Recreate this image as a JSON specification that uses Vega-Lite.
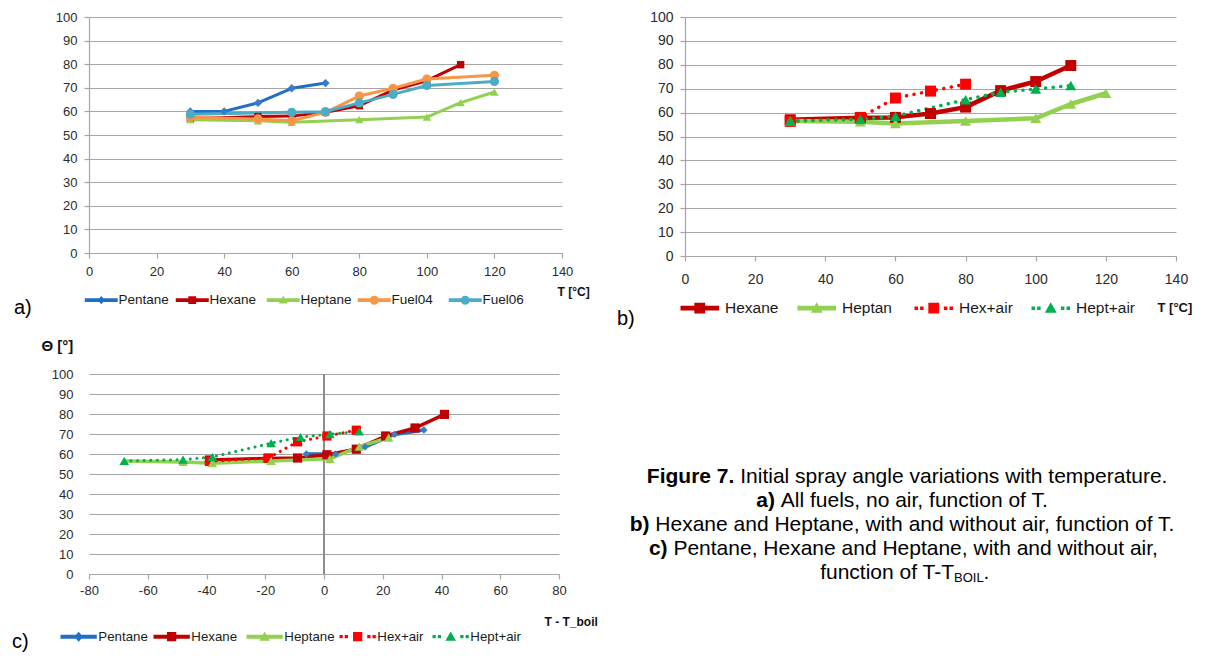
{
  "$schema": "https://vega.github.io/schema/vega-lite/v6.json",
  "background": "white",
  "padding": {"left": 12, "top": 10, "right": 5, "bottom": 0},
  "config": {
    "font": "Liberation Sans",
    "view": {"stroke": null},
    "axis": {"labelColor": "#2b2b2b", "labelFont": "Liberation Sans", "labelFlush": false, "labelOverlap": false, "domainColor": "#A6A6A6", "tickColor": "#A6A6A6", "gridColor": "#A6A6A6", "gridWidth": 1.2, "domainWidth": 1.2, "tickWidth": 1.2, "titleColor": "#111111", "titleFont": "Liberation Sans"},
    "title": {"fontWeight": "normal", "fontSize": 20, "color": "#000000", "font": "Liberation Sans"}
  },
  "resolve": {
    "scale": {"color": "independent", "fill": "independent", "stroke": "independent", "shape": "independent"},
    "legend": {"color": "independent", "shape": "independent"}
  },
  "datasets": {
    "a": [
      {"series": "Pentane", "T": 30, "angle": 60}, {"series": "Pentane", "T": 40, "angle": 60}, {"series": "Pentane", "T": 50, "angle": 63.6}, {"series": "Pentane", "T": 60, "angle": 69.8}, {"series": "Pentane", "T": 70, "angle": 72},
      {"series": "Hexane", "T": 30, "angle": 57}, {"series": "Hexane", "T": 50, "angle": 57.8}, {"series": "Hexane", "T": 60, "angle": 58}, {"series": "Hexane", "T": 70, "angle": 59.6}, {"series": "Hexane", "T": 80, "angle": 62.4}, {"series": "Hexane", "T": 90, "angle": 69}, {"series": "Hexane", "T": 100, "angle": 73}, {"series": "Hexane", "T": 110, "angle": 79.8},
      {"series": "Heptane", "T": 30, "angle": 56.5}, {"series": "Heptane", "T": 50, "angle": 56}, {"series": "Heptane", "T": 60, "angle": 55.4}, {"series": "Heptane", "T": 80, "angle": 56.5}, {"series": "Heptane", "T": 100, "angle": 57.6}, {"series": "Heptane", "T": 110, "angle": 63.7}, {"series": "Heptane", "T": 120, "angle": 68.2},
      {"series": "Fuel04", "T": 30, "angle": 57.5}, {"series": "Fuel04", "T": 50, "angle": 56.8}, {"series": "Fuel04", "T": 60, "angle": 56}, {"series": "Fuel04", "T": 70, "angle": 59.6}, {"series": "Fuel04", "T": 80, "angle": 66.5}, {"series": "Fuel04", "T": 90, "angle": 69.8}, {"series": "Fuel04", "T": 100, "angle": 73.7}, {"series": "Fuel04", "T": 120, "angle": 75.3},
      {"series": "Fuel06", "T": 30, "angle": 58.8}, {"series": "Fuel06", "T": 60, "angle": 59.6}, {"series": "Fuel06", "T": 70, "angle": 59.9}, {"series": "Fuel06", "T": 80, "angle": 63.6}, {"series": "Fuel06", "T": 90, "angle": 67.2}, {"series": "Fuel06", "T": 100, "angle": 71}, {"series": "Fuel06", "T": 120, "angle": 72.7}
    ],
    "b": [
      {"series": "Hexane", "T": 30, "angle": 57}, {"series": "Hexane", "T": 50, "angle": 57.8}, {"series": "Hexane", "T": 60, "angle": 58}, {"series": "Hexane", "T": 70, "angle": 59.6}, {"series": "Hexane", "T": 80, "angle": 62.3}, {"series": "Hexane", "T": 90, "angle": 69.2}, {"series": "Hexane", "T": 100, "angle": 73}, {"series": "Hexane", "T": 110, "angle": 79.7},
      {"series": "Heptan", "T": 30, "angle": 56.5}, {"series": "Heptan", "T": 50, "angle": 56.2}, {"series": "Heptan", "T": 60, "angle": 55.4}, {"series": "Heptan", "T": 80, "angle": 56.5}, {"series": "Heptan", "T": 100, "angle": 57.6}, {"series": "Heptan", "T": 110, "angle": 63.6}, {"series": "Heptan", "T": 120, "angle": 68.1},
      {"series": "Hex+air", "T": 30, "angle": 56.3}, {"series": "Hex+air", "T": 50, "angle": 58}, {"series": "Hex+air", "T": 60, "angle": 66.1}, {"series": "Hex+air", "T": 70, "angle": 69}, {"series": "Hex+air", "T": 80, "angle": 71.9},
      {"series": "Hept+air", "T": 30, "angle": 56.5}, {"series": "Hept+air", "T": 50, "angle": 57.2}, {"series": "Hept+air", "T": 60, "angle": 58.5}, {"series": "Hept+air", "T": 80, "angle": 65.4}, {"series": "Hept+air", "T": 90, "angle": 68.5}, {"series": "Hept+air", "T": 100, "angle": 69.9}, {"series": "Hept+air", "T": 110, "angle": 71.3}
    ],
    "c": [
      {"series": "Pentane", "dT": -6, "angle": 60}, {"series": "Pentane", "dT": 4, "angle": 60}, {"series": "Pentane", "dT": 14, "angle": 63.6}, {"series": "Pentane", "dT": 24, "angle": 69.8}, {"series": "Pentane", "dT": 34, "angle": 72},
      {"series": "Hexane", "dT": -39, "angle": 57}, {"series": "Hexane", "dT": -19, "angle": 57.8}, {"series": "Hexane", "dT": -9, "angle": 58}, {"series": "Hexane", "dT": 1, "angle": 59.6}, {"series": "Hexane", "dT": 11, "angle": 62.4}, {"series": "Hexane", "dT": 21, "angle": 69}, {"series": "Hexane", "dT": 31, "angle": 73}, {"series": "Hexane", "dT": 41, "angle": 79.8},
      {"series": "Heptane", "dT": -68, "angle": 56.5}, {"series": "Heptane", "dT": -48, "angle": 56}, {"series": "Heptane", "dT": -38, "angle": 55.4}, {"series": "Heptane", "dT": -18, "angle": 56.5}, {"series": "Heptane", "dT": 2, "angle": 57.6}, {"series": "Heptane", "dT": 12, "angle": 63.7}, {"series": "Heptane", "dT": 22, "angle": 68.2},
      {"series": "Hex+air", "dT": -39, "angle": 56.3}, {"series": "Hex+air", "dT": -19, "angle": 58}, {"series": "Hex+air", "dT": -9, "angle": 66.1}, {"series": "Hex+air", "dT": 1, "angle": 69}, {"series": "Hex+air", "dT": 11, "angle": 71.9},
      {"series": "Hept+air", "dT": -68, "angle": 56.5}, {"series": "Hept+air", "dT": -48, "angle": 57.2}, {"series": "Hept+air", "dT": -38, "angle": 58.5}, {"series": "Hept+air", "dT": -18, "angle": 65.4}, {"series": "Hept+air", "dT": -8, "angle": 68.5}, {"series": "Hept+air", "dT": 2, "angle": 69.9}, {"series": "Hept+air", "dT": 12, "angle": 71.3}
    ],
    "caption": [
      {"line": 1, "part": "b", "text": "Figure 7."}, {"line": 1, "part": "r", "text": "Initial spray angle variations with temperature."},
      {"line": 2, "part": "b", "text": "a)"}, {"line": 2, "part": "r", "text": "All fuels, no air, function of T."},
      {"line": 3, "part": "b", "text": "b)"}, {"line": 3, "part": "r", "text": "Hexane and Heptane, with and without air, function of T."},
      {"line": 4, "part": "b", "text": "c)"}, {"line": 4, "part": "r", "text": "Pentane, Hexane and Heptane, with and without air,"},
      {"line": 5, "part": "r", "text": "function of T-T"}, {"line": 5, "part": "sub", "text": "BOIL"}, {"line": 5, "part": "end", "text": "."}
    ]
  },
  "concat": [
    {
      "width": 473, "height": 236,
      "data": {"name": "a"},
      "title": {"text": "a)", "orient": "bottom", "anchor": "start", "frame": "group", "dx": -75, "dy": -13},
      "encoding": {
        "x": {"field": "T", "type": "quantitative", "scale": {"domain": [0, 140], "nice": false},
              "axis": {"values": [0, 20, 40, 60, 80, 100, 120, 140], "grid": false, "tickSize": 5, "labelPadding": 7, "labelFontSize": 13,
                       "title": "T [°C]", "titleX": 468, "titleY": 38, "titleAlign": "left", "titleBaseline": "middle", "titleFontSize": 12, "titleFontWeight": "bold"}},
        "y": {"field": "angle", "type": "quantitative", "scale": {"domain": [0, 100], "nice": false},
              "axis": {"values": [0, 10, 20, 30, 40, 50, 60, 70, 80, 90, 100], "grid": true, "tickSize": 5, "labelPadding": 7, "labelFontSize": 13, "title": null}}
      },
      "layer": [
        {"mark": {"type": "line", "strokeWidth": 3, "strokeJoin": "round", "strokeCap": "round"},
         "encoding": {"stroke": {"field": "series", "type": "nominal", "scale": {"domain": ["Pentane", "Hexane", "Heptane", "Fuel04", "Fuel06", "-"], "range": ["#1F6FC5", "#C00000", "#92D050", "#F79646", "#4BACC6", "#000000"]}, "legend": null}}},
        {"transform": [{"filter": "datum.series === 'Pentane'"}],
         "mark": {"type": "point", "shape": "diamond", "filled": true, "opacity": 1, "size": 70, "strokeWidth": 0},
         "encoding": {"fill": {"field": "series", "type": "nominal", "scale": {"domain": ["Pentane", "Hexane", "Heptane", "Fuel04", "Fuel06", "--"], "range": ["#3A7CC4", "#C00000", "#92D050", "#F79646", "#4BACC6", "#000000"]}, "legend": null}}},
        {"transform": [{"filter": "datum.series === 'Hexane'"}],
         "mark": {"type": "point", "shape": "square", "filled": true, "opacity": 1, "size": 55, "strokeWidth": 0},
         "encoding": {"fill": {"field": "series", "type": "nominal", "legend": null}}},
        {"transform": [{"filter": "datum.series === 'Heptane'"}],
         "mark": {"type": "point", "shape": "triangle-up", "filled": true, "opacity": 1, "size": 70, "strokeWidth": 0},
         "encoding": {"fill": {"field": "series", "type": "nominal", "legend": null}}},
        {"transform": [{"filter": "datum.series === 'Fuel04' || datum.series === 'Fuel06'"}],
         "mark": {"type": "point", "shape": "circle", "filled": true, "opacity": 1, "size": 85, "strokeWidth": 0},
         "encoding": {"fill": {"field": "series", "type": "nominal", "legend": null}}},
        {"transform": [{"filter": "false"}],
         "mark": {"type": "point", "filled": true, "opacity": 1},
         "encoding": {
           "color": {"field": "series", "type": "nominal", "scale": {"domain": ["Pentane", "Hexane", "Heptane", "Fuel04", "Fuel06"], "range": ["#1F6FC5", "#C00000", "#92D050", "#F79646", "#4BACC6"]},
                     "legend": {"title": null, "orient": "none", "legendX": 5.5, "legendY": 276, "direction": "horizontal", "gridAlign": "all", "columnPadding": 5, "symbolSize": 36, "symbolStrokeWidth": 0, "symbolOpacity": 1, "labelOffset": 10.5, "labelFontSize": 13.5, "labelColor": "#1a1a1a", "labelBaseline": "middle"}},
           "shape": {"field": "series", "type": "nominal", "scale": {"domain": ["Pentane", "Hexane", "Heptane", "Fuel04", "Fuel06"],
                     "range": ["M-5.5,-0.6H5.5V0.6H-5.5Z M0,-1.4L1.2,0L0,1.4L-1.2,0Z", "M-5.5,-0.6H5.5V0.6H-5.5Z M-1.3,-1.3H1.3V1.3H-1.3Z", "M-5.5,-0.6H5.5V0.6H-5.5Z M0,-1.5L1.5,1.1H-1.5Z", "M-5.5,-0.6H5.5V0.6H-5.5Z M-1.5,0A1.5,1.5,0,1,1,1.5,0A1.5,1.5,0,1,1,-1.5,0Z", "M-5.5,-0.6H5.5V0.6H-5.5Z M-1.5,0A1.5,1.5,0,1,1,1.5,0A1.5,1.5,0,1,1,-1.5,0Z"]},
                     "legend": {"title": null, "orient": "none", "legendX": 5.5, "legendY": 276, "direction": "horizontal", "gridAlign": "all", "columnPadding": 5, "symbolSize": 36, "symbolStrokeWidth": 0, "symbolOpacity": 1, "labelOffset": 10.5, "labelFontSize": 13.5, "labelColor": "#1a1a1a", "labelBaseline": "middle"}}
         }}
      ]
    },
    {
      "width": 491, "height": 239,
      "data": {"name": "b"},
      "title": {"text": "b)", "orient": "bottom", "anchor": "start", "frame": "group", "dx": -68, "dy": -12},
      "encoding": {
        "x": {"field": "T", "type": "quantitative", "scale": {"domain": [0, 140], "nice": false},
              "axis": {"values": [0, 20, 40, 60, 80, 100, 120, 140], "grid": false, "tickSize": 5, "labelPadding": 11, "labelFontSize": 14,
                       "title": "T [°C]", "titleX": 472, "titleY": 51, "titleAlign": "left", "titleBaseline": "middle", "titleFontSize": 13, "titleFontWeight": "bold"}},
        "y": {"field": "angle", "type": "quantitative", "scale": {"domain": [0, 100], "nice": false},
              "axis": {"values": [0, 10, 20, 30, 40, 50, 60, 70, 80, 90, 100], "grid": true, "tickSize": 5, "labelPadding": 7, "labelFontSize": 14, "title": null}}
      },
      "layer": [
        {"transform": [{"filter": "datum.series === 'Hexane' || datum.series === 'Heptan'"}],
         "mark": {"type": "line", "strokeWidth": 4.5, "strokeJoin": "round", "strokeCap": "round"},
         "encoding": {"stroke": {"field": "series", "type": "nominal", "scale": {"domain": ["Hexane", "Heptan", "Hex+air", "Hept+air", "-"], "range": ["#C00000", "#92D050", "#FF0000", "#00B050", "#000000"]}, "legend": null}}},
        {"transform": [{"filter": "datum.series === 'Hex+air' || datum.series === 'Hept+air'"}],
         "mark": {"type": "line", "strokeWidth": 3.5, "strokeCap": "round", "strokeDash": [0.1, 7.5]},
         "encoding": {"stroke": {"field": "series", "type": "nominal", "legend": null}}},
        {"transform": [{"filter": "datum.series === 'Hexane' || datum.series === 'Hex+air'"}],
         "mark": {"type": "point", "shape": "square", "filled": true, "opacity": 1, "size": 120, "strokeWidth": 0},
         "encoding": {"fill": {"field": "series", "type": "nominal", "scale": {"domain": ["Hexane", "Heptan", "Hex+air", "Hept+air", "--"], "range": ["#C00000", "#92D050", "#FF0000", "#00B050", "#000000"]}, "legend": null}}},
        {"transform": [{"filter": "datum.series === 'Heptan' || datum.series === 'Hept+air'"}],
         "mark": {"type": "point", "shape": "triangle-up", "filled": true, "opacity": 1, "size": 120, "strokeWidth": 0},
         "encoding": {"fill": {"field": "series", "type": "nominal", "legend": null}}},
        {"transform": [{"filter": "false"}],
         "mark": {"type": "point", "filled": true, "opacity": 1},
         "encoding": {
           "color": {"field": "series", "type": "nominal", "scale": {"domain": ["Hexane", "Heptan", "Hex+air", "Hept+air"], "range": ["#C00000", "#92D050", "#FF0000", "#00B050"]},
                     "legend": {"title": null, "orient": "none", "legendX": 7, "legendY": 283, "direction": "horizontal", "gridAlign": "all", "columnPadding": 12, "symbolSize": 49, "symbolStrokeWidth": 0, "labelOffset": 17.5, "labelFontSize": 15.5, "labelColor": "#1a1a1a", "labelBaseline": "middle"}},
           "shape": {"field": "series", "type": "nominal", "scale": {"domain": ["Hexane", "Heptan", "Hex+air", "Hept+air"],
                     "range": ["M-5.5,-0.7H5.5V0.7H-5.5Z M-1.55,-1.55H1.55V1.55H-1.55Z", "M-5.5,-0.7H5.5V0.7H-5.5Z M0,-1.7L1.7,1.3H-1.7Z", "M-5.5,-0.5H-4.5V0.5H-5.5Z M-3.9,-0.5H-2.9V0.5H-3.9Z M2.9,-0.5H3.9V0.5H2.9Z M4.5,-0.5H5.5V0.5H4.5Z M-1.55,-1.55H1.55V1.55H-1.55Z", "M-5.5,-0.5H-4.5V0.5H-5.5Z M-3.9,-0.5H-2.9V0.5H-3.9Z M2.9,-0.5H3.9V0.5H2.9Z M4.5,-0.5H5.5V0.5H4.5Z M0,-1.7L1.7,1.3H-1.7Z"]},
                     "legend": {"title": null, "orient": "none", "legendX": 7, "legendY": 283, "direction": "horizontal", "gridAlign": "all", "columnPadding": 12, "symbolSize": 49, "symbolStrokeWidth": 0, "labelOffset": 17.5, "labelFontSize": 15.5, "labelColor": "#1a1a1a", "labelBaseline": "middle"}}
         }}
      ]
    },
    {
      "width": 470, "height": 200,
      "data": {"name": "c"},
      "title": {"text": "c)", "orient": "bottom", "anchor": "start", "frame": "group", "dx": -77, "dy": -15},
      "encoding": {
        "x": {"field": "dT", "type": "quantitative", "scale": {"domain": [-80, 80], "nice": false},
              "axis": {"values": [-80, -60, -40, -20, 0, 20, 40, 60, 80], "labelExpr": "'' + datum.value", "grid": false, "tickSize": 5, "labelPadding": 5, "labelFontSize": 13,
                       "title": "T - T_boil", "titleX": 455, "titleY": 47, "titleAlign": "left", "titleBaseline": "middle", "titleFontSize": 12, "titleFontWeight": "bold"}},
        "y": {"field": "angle", "type": "quantitative", "scale": {"domain": [0, 100], "nice": false},
              "axis": {"values": [0, 10, 20, 30, 40, 50, 60, 70, 80, 90, 100], "grid": true, "domain": false, "ticks": false, "tickSize": 0, "labelPadding": 16, "labelFontSize": 13,
                       "title": "Θ [°]", "titleAngle": 0, "titleX": -48, "titleY": -29, "titleAlign": "left", "titleBaseline": "middle", "titleFontSize": 15, "titleFontWeight": "bold"}}
      },
      "layer": [
        {"mark": {"type": "rule", "color": "#8C8C8C", "strokeWidth": 1.2},
         "encoding": {"x": {"datum": 0}, "y": {"datum": 0}, "y2": {"datum": 100}}},
        {"transform": [{"filter": "datum.series === 'Pentane' || datum.series === 'Hexane' || datum.series === 'Heptane'"}],
         "mark": {"type": "line", "strokeWidth": 3.5, "strokeJoin": "round", "strokeCap": "round"},
         "encoding": {"stroke": {"field": "series", "type": "nominal", "scale": {"domain": ["Pentane", "Hexane", "Heptane", "Hex+air", "Hept+air", "-"], "range": ["#1F6FC5", "#C00000", "#92D050", "#FF0000", "#00B050", "#000000"]}, "legend": null}}},
        {"transform": [{"filter": "datum.series === 'Hex+air' || datum.series === 'Hept+air'"}],
         "mark": {"type": "line", "strokeWidth": 3, "strokeCap": "round", "strokeDash": [0.1, 6.5]},
         "encoding": {"stroke": {"field": "series", "type": "nominal", "legend": null}}},
        {"transform": [{"filter": "datum.series === 'Pentane'"}],
         "mark": {"type": "point", "shape": "diamond", "filled": true, "opacity": 1, "size": 55, "strokeWidth": 0},
         "encoding": {"fill": {"field": "series", "type": "nominal", "scale": {"domain": ["Pentane", "Hexane", "Heptane", "Hex+air", "Hept+air", "--"], "range": ["#3A7CC4", "#C00000", "#92D050", "#FF0000", "#00B050", "#000000"]}, "legend": null}}},
        {"transform": [{"filter": "datum.series === 'Hexane' || datum.series === 'Hex+air'"}],
         "mark": {"type": "point", "shape": "square", "filled": true, "opacity": 1, "size": 85, "strokeWidth": 0},
         "encoding": {"fill": {"field": "series", "type": "nominal", "legend": null}}},
        {"transform": [{"filter": "datum.series === 'Heptane' || datum.series === 'Hept+air'"}],
         "mark": {"type": "point", "shape": "triangle-up", "filled": true, "opacity": 1, "size": 90, "strokeWidth": 0},
         "encoding": {"fill": {"field": "series", "type": "nominal", "legend": null}}},
        {"transform": [{"filter": "false"}],
         "mark": {"type": "point", "filled": true, "opacity": 1},
         "encoding": {
           "color": {"field": "series", "type": "nominal", "scale": {"domain": ["Pentane", "Hexane", "Heptane", "Hex+air", "Hept+air"], "range": ["#1F6FC5", "#C00000", "#92D050", "#FF0000", "#00B050"]},
                     "legend": {"title": null, "orient": "none", "legendX": -17, "legendY": 256, "direction": "horizontal", "gridAlign": "all", "columnPadding": 4, "symbolSize": 43.6, "symbolStrokeWidth": 0, "labelOffset": 13, "labelFontSize": 13.3, "labelColor": "#1a1a1a", "labelBaseline": "middle"}},
           "shape": {"field": "series", "type": "nominal", "scale": {"domain": ["Pentane", "Hexane", "Heptane", "Hex+air", "Hept+air"],
                     "range": ["M-5.5,-0.6H5.5V0.6H-5.5Z M0,-1.5L1.3,0L0,1.5L-1.3,0Z", "M-5.5,-0.6H5.5V0.6H-5.5Z M-1.4,-1.4H1.4V1.4H-1.4Z", "M-5.5,-0.6H5.5V0.6H-5.5Z M0,-1.6L1.6,1.2H-1.6Z", "M-5.5,-0.5H-4.5V0.5H-5.5Z M-3.9,-0.5H-2.9V0.5H-3.9Z M2.9,-0.5H3.9V0.5H2.9Z M4.5,-0.5H5.5V0.5H4.5Z M-1.4,-1.4H1.4V1.4H-1.4Z", "M-5.5,-0.5H-4.5V0.5H-5.5Z M-3.9,-0.5H-2.9V0.5H-3.9Z M2.9,-0.5H3.9V0.5H2.9Z M4.5,-0.5H5.5V0.5H4.5Z M0,-1.6L1.6,1.2H-1.6Z"]},
                     "legend": {"title": null, "orient": "none", "legendX": -17, "legendY": 256, "direction": "horizontal", "gridAlign": "all", "columnPadding": 4, "symbolSize": 43.6, "symbolStrokeWidth": 0, "labelOffset": 13, "labelFontSize": 13.3, "labelColor": "#1a1a1a", "labelBaseline": "middle"}}
         }}
      ]
    },
    {
      "width": 438, "height": 200,
      "data": {"name": "caption"},
      "encoding": {
        "y": {"field": "line", "type": "quantitative", "scale": {"domain": [-3.29, 5.04], "reverse": true, "nice": false, "zero": false}, "axis": null},
        "text": {"field": "text"}
      },
      "layer": [
        {"transform": [{"filter": "datum.line === 1 && datum.part === 'b'"}], "mark": {"type": "text", "align": "right", "baseline": "middle", "dx": -169.6, "fontSize": 21, "fontWeight": "bold", "color": "#000000"}},
        {"transform": [{"filter": "datum.line === 1 && datum.part === 'r'"}], "mark": {"type": "text", "align": "left", "baseline": "middle", "dx": -163.8, "fontSize": 21, "color": "#000000"}},
        {"transform": [{"filter": "datum.line === 2 && datum.part === 'b'"}], "mark": {"type": "text", "align": "right", "baseline": "middle", "dx": -129.0, "fontSize": 21, "fontWeight": "bold", "color": "#000000"}},
        {"transform": [{"filter": "datum.line === 2 && datum.part === 'r'"}], "mark": {"type": "text", "align": "left", "baseline": "middle", "dx": -123.2, "fontSize": 21, "color": "#000000"}},
        {"transform": [{"filter": "datum.line === 3 && datum.part === 'b'"}], "mark": {"type": "text", "align": "right", "baseline": "middle", "dx": -254.5, "fontSize": 21, "fontWeight": "bold", "color": "#000000"}},
        {"transform": [{"filter": "datum.line === 3 && datum.part === 'r'"}], "mark": {"type": "text", "align": "left", "baseline": "middle", "dx": -248.7, "fontSize": 21, "color": "#000000"}},
        {"transform": [{"filter": "datum.line === 4 && datum.part === 'b'"}], "mark": {"type": "text", "align": "right", "baseline": "middle", "dx": -236.4, "fontSize": 21, "fontWeight": "bold", "color": "#000000"}},
        {"transform": [{"filter": "datum.line === 4 && datum.part === 'r'"}], "mark": {"type": "text", "align": "left", "baseline": "middle", "dx": -230.6, "fontSize": 21, "color": "#000000"}},
        {"transform": [{"filter": "datum.line === 5 && datum.part === 'r'"}], "mark": {"type": "text", "align": "right", "baseline": "middle", "dx": 50, "fontSize": 21, "color": "#000000"}},
        {"transform": [{"filter": "datum.line === 5 && datum.part === 'sub'"}], "mark": {"type": "text", "align": "left", "baseline": "middle", "dx": 50, "dy": 5, "fontSize": 13, "color": "#000000"}},
        {"transform": [{"filter": "datum.line === 5 && datum.part === 'end'"}], "mark": {"type": "text", "align": "left", "baseline": "middle", "dx": 79.6, "fontSize": 21, "color": "#000000"}}
      ]
    }
  ],
  "columns": 2,
  "spacing": {"row": 118, "column": 123},
  "bounds": "flush"
}
